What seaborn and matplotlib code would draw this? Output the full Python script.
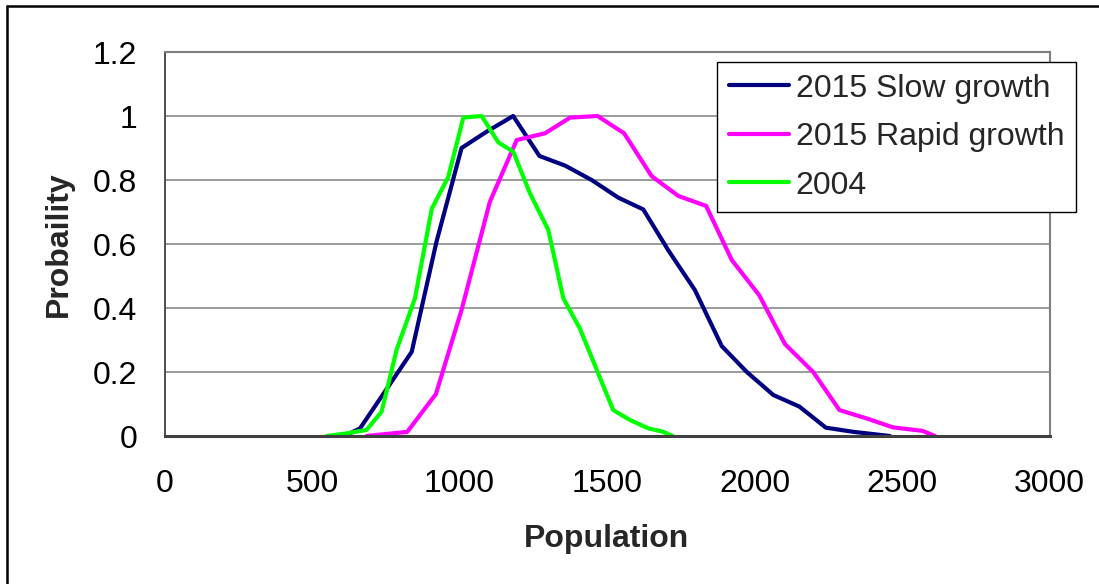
import numpy as np
import pandas as pd
import matplotlib
matplotlib.use("Agg")
import matplotlib.pyplot as plt
from matplotlib.lines import Line2D
import seaborn as sns

# ---- data ----
slow_x = [617, 663, 838, 922, 1007, 1092, 1182, 1271, 1358, 1448, 1538, 1623, 1708, 1798, 1889, 1974, 2064, 2152, 2242, 2335, 2459]
slow_y = [0.003, 0.024, 0.263, 0.607, 0.90, 0.951, 1.0, 0.875, 0.845, 0.80, 0.745, 0.708, 0.58, 0.456, 0.281, 0.20, 0.128, 0.092, 0.026, 0.013, 0.0]

rapid_x = [685, 823, 920, 1007, 1103, 1194, 1290, 1375, 1468, 1558, 1651, 1742, 1836, 1923, 2016, 2103, 2199, 2288, 2380, 2469, 2570, 2612]
rapid_y = [0.0, 0.013, 0.131, 0.394, 0.732, 0.925, 0.946, 0.995, 1.0, 0.946, 0.8125, 0.75, 0.719, 0.55, 0.44, 0.2875, 0.20, 0.081, 0.055, 0.027, 0.016, 0.0]

y2004_x = [550, 617, 685, 736, 787, 849, 906, 962, 1013, 1075, 1132, 1182, 1239, 1301, 1352, 1408, 1521, 1578, 1640, 1691, 1723]
y2004_y = [0.0, 0.008, 0.019, 0.076, 0.27, 0.43, 0.71, 0.81, 0.995, 1.0, 0.917, 0.889, 0.758, 0.644, 0.43, 0.336, 0.081, 0.05, 0.024, 0.013, 0.0]

series_names = ["2015 Slow growth", "2015 Rapid growth", "2004"]
series_colors = ["#000080", "#FF00FF", "#00FF00"]
x_ticks = [0, 500, 1000, 1500, 2000, 2500, 3000]
y_ticks = [0, 0.2, 0.4, 0.6, 0.8, 1.0, 1.2]
y_tick_labels = ["0", "0.2", "0.4", "0.6", "0.8", "1", "1.2"]

frames = []
for name, xs, ys in zip(series_names, [slow_x, rapid_x, y2004_x], [slow_y, rapid_y, y2004_y]):
    frames.append(pd.DataFrame({"Population": xs, "Probability": ys, "Series": name}))
df = pd.concat(frames, ignore_index=True)

sns.set_style("white")
plt.rcParams["font.family"] = ["Liberation Sans", "DejaVu Sans"]

W, H = 1099, 584
fig = plt.figure(figsize=(W / 100, H / 100), dpi=100)
L, R, B, T = 164.5, 1049.5, 436, 52
ax = fig.add_axes([L / W, 1 - B / H, (R - L) / W, (B - T) / H])

sns.lineplot(data=df, x="Population", y="Probability", hue="Series", hue_order=series_names,
             palette=dict(zip(series_names, series_colors)), sort=False, units="Series",
             estimator=None, linewidth=3.0, ax=ax, legend=False)

FS = 23
ax.set_xlim(0, 3000)
ax.set_ylim(0, 1.2)
ax.set_xticks(x_ticks)
ax.set_xticklabels([str(t) for t in x_ticks])
ax.set_yticks(y_ticks)
ax.set_yticklabels(y_tick_labels)
ax.tick_params(axis="both", which="major", labelsize=FS, direction="out", length=7.5,
               width=1.2, color="#404040", labelcolor="black")
ax.tick_params(axis="x", pad=16)
ax.tick_params(axis="y", pad=12)

ax.grid(axis="y", color="#808080", linewidth=1.1)
ax.grid(axis="x", visible=False)
ax.set_axisbelow(True)

for side in ["top", "right"]:
    ax.spines[side].set_color("#808080")
    ax.spines[side].set_linewidth(1.5)
ax.spines["left"].set_color("#404040")
ax.spines["left"].set_linewidth(1.3)
ax.spines["bottom"].set_color("#404040")
ax.spines["bottom"].set_linewidth(2.2)

ax.set_xlabel("Population", fontsize=FS, fontweight="bold", labelpad=18)
ax.set_ylabel("Probaility", fontsize=FS, fontweight="bold", labelpad=14)

handles = [Line2D([0], [0], color=c, linewidth=3.0) for c in series_colors]
leg = ax.legend(handles, series_names, loc="upper left",
                bbox_to_anchor=((717 - L) / (R - L), (B - 62) / (B - T)),
                fontsize=FS, frameon=True, fancybox=False, framealpha=1,
                edgecolor="black", borderpad=0.36, labelspacing=0.58,
                handlelength=1.9, handletextpad=0.2, borderaxespad=0)
leg.get_frame().set_linewidth(1.0)

# outer chart border (left and top visible)
fig.add_artist(Line2D([7 / W, 7 / W], [0, 1 - 6 / H], color="black", linewidth=1.8, transform=fig.transFigure))
fig.add_artist(Line2D([7 / W, 1], [1 - 6 / H, 1 - 6 / H], color="black", linewidth=1.8, transform=fig.transFigure))

fig.savefig("out.png", dpi=100)
